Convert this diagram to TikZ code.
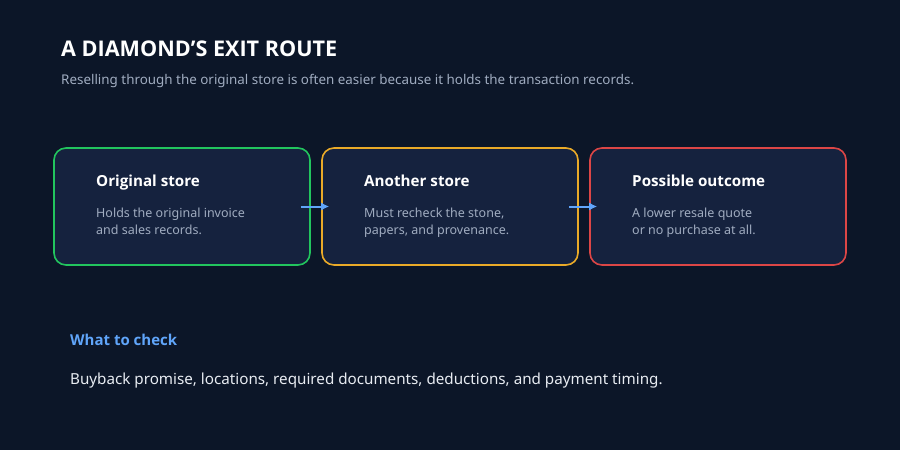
\documentclass[tikz,border=0pt]{standalone}
\usepackage{fontspec}
\setmainfont{Noto Sans}[BoldFont={Open Sans Bold}]
\usetikzlibrary{arrows.meta}
\definecolor{bgnavy}{RGB}{12,22,40}
\definecolor{cardfill}{RGB}{21,34,62}
\definecolor{okgreen}{RGB}{34,197,94}
\definecolor{warnorange}{RGB}{234,170,40}
\definecolor{badred}{RGB}{220,70,70}
\definecolor{linkblue}{RGB}{96,165,250}
\definecolor{mutedgrey}{RGB}{160,172,192}
\definecolor{softwhite}{RGB}{232,236,242}
\tikzset{
  card/.style={draw=#1, line width=1.6pt, fill=cardfill, rounded corners=12pt,
    minimum width=256pt, minimum height=117pt, inner sep=0pt},
  cardhead/.style={anchor=base west, inner sep=0pt, text=white,
    font=\fontsize{15.2}{18}\selectfont\bfseries},
  carddesc/.style={anchor=north west, inner sep=0pt, text=mutedgrey, align=left,
    font=\fontsize{12.5}{17}\selectfont},
  flow/.style={-{Latex[length=8pt,width=8pt]}, line width=2pt, draw=linkblue,
    shorten <=-10pt, shorten >=-8pt}
}
\begin{document}
\begin{tikzpicture}[x=1pt, y=-1pt]
    \pgfmathsetmacro{\w}{268}
    \fill[bgnavy] (0,0) rectangle (900,450);
    \useasboundingbox (0,0) rectangle (900,450);
	\node[anchor=base west, inner sep=0, text=white, font=\fontsize{21.6}{26}\selectfont\bfseries] (title) at (61,56) {A DIAMOND’S EXIT ROUTE};
	\node[anchor=base west, inner sep=0, text=mutedgrey, font=\fontsize{13.4}{16}\selectfont] (subtitle) at (61,84) {Reselling through the original store is often easier because it holds the transaction records.};
	\node[card=okgreen] (orig) at (182,206.5) {};
	\node[card=warnorange] (other) at ({182+\w},206.5) {};
	\node[card=badred] (outcome) at ({182+2*\w},206.5) {};
	\node[cardhead] (origT) at (96,186) {Original store};
	\node[carddesc] (origD) at (96,208) {Holds the original invoice\\and sales records.};
	\node[cardhead] (otherT) at ({96+\w},186) {Another store};
	\node[carddesc] (otherD) at ({96+\w},208) {Must recheck the stone,\\papers, and provenance.};
	\node[cardhead] (outcomeT) at ({96+2*\w},186) {Possible outcome};
	\node[carddesc] (outcomeD) at ({96+2*\w},208) {A lower resale quote\\or no purchase at all.};
	\draw[flow] (orig.east) -- (other.west);
	\draw[flow] (other.east) -- (outcome.west);
	\node[anchor=base west, inner sep=0, text=linkblue, font=\fontsize{15}{18}\selectfont\bfseries] (check) at (70,345) {What to check};
	\node[anchor=base west, inner sep=0, text=softwhite, font=\fontsize{15.2}{18}\selectfont] (checklist) at (70,384) {Buyback promise, locations, required documents, deductions, and payment timing.};
\end{tikzpicture}
\end{document}
